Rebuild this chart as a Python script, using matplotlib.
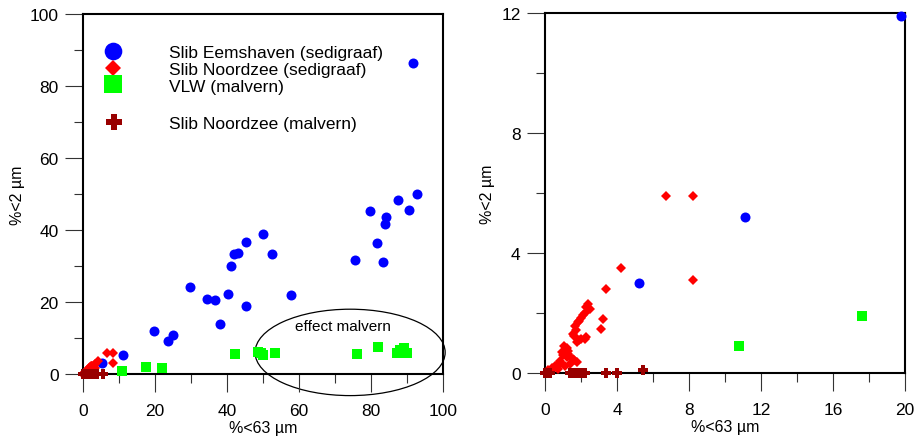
import matplotlib
matplotlib.use('Agg')
import matplotlib.pyplot as plt
import numpy as np
from matplotlib.patches import Ellipse
from matplotlib.lines import Line2D
from matplotlib.ticker import MultipleLocator

plt.rcParams['font.family'] = ['Liberation Sans', 'DejaVu Sans']

# Slib Eemshaven (sedigraaf)
eems_x = [5.2, 11.1, 19.8, 23.5, 25.0, 29.7, 34.4, 36.8, 38.1, 40.3, 41.2, 41.9, 43.0, 45.3,
          45.3, 50.1, 52.6, 57.8, 75.5, 79.6, 81.7, 83.4, 83.9, 84.1, 87.4, 90.5, 91.6, 92.7]
eems_y = [3.0, 5.2, 11.9, 9.1, 10.7, 24.2, 20.7, 20.6, 13.9, 22.1, 29.9, 33.2, 33.6, 36.7,
          18.8, 39.0, 33.3, 21.9, 31.8, 45.4, 36.5, 31.2, 41.7, 43.6, 48.3, 45.6, 86.5, 50.0]

# Slib Noordzee (sedigraaf)
nz_x = [6.7, 8.2, 8.2, 4.2, 3.4, 2.4, 2.5, 2.2, 2.0, 1.85, 1.67, 1.54, 3.2, 3.1, 2.3, 2.0,
        1.8, 1.07, 1.3, 0.93, 1.57, 1.2, 0.83, 0.74, 0.56, 0.37, 0.19, 1.76, 1.4, 1.1, 0.1,
        1.2, 1.0, 1.4, 0.9, 1.6, 1.3, 0.6, 1.7, 1.9, 2.1, 2.3, 1.6, 2.2, 1.9, 0.45, 0.7]
nz_y = [5.9, 5.9, 3.1, 3.5, 2.8, 2.3, 2.15, 2.0, 1.85, 1.7, 1.58, 1.3, 1.8, 1.47, 1.2, 1.13,
        1.04, 0.9, 0.75, 0.7, 0.47, 0.52, 0.41, 0.3, 0.25, 0.16, 0.09, 0.36, 0.3, 0.25, 0.02,
        0.85, 0.6, 0.55, 0.35, 0.45, 0.65, 0.2, 1.45, 1.75, 1.95, 2.2, 1.25, 1.15, 1.1, 0.12, 0.15]

# VLW (malvern)
vlw_x = [10.8, 17.6, 22.0, 42.3, 48.5, 49.5, 50.0, 53.2, 76.0, 82.0, 87.1, 88.0, 89.2, 89.9]
vlw_y = [0.9, 1.9, 1.6, 5.5, 6.2, 5.9, 5.2, 5.8, 5.6, 7.6, 5.9, 6.7, 7.1, 5.8]

# Slib Noordzee (malvern)
nzm_x = [0.0, 0.1, 0.2, 0.3, 1.4, 1.6, 1.8, 2.0, 2.2, 3.4, 4.0, 5.45]
nzm_y = [0, 0, 0, 0, 0, 0, 0, 0, 0, 0, 0, 0.1]

series = [
    (eems_x, eems_y, 'o', '#0000ff', 7.2, 12.7, 'Slib Eemshaven (sedigraaf)'),
    (vlw_x, vlw_y, 's', '#00ff00', 6.8, 12.5, 'VLW (malvern)'),
    (nz_x, nz_y, 'D', '#ff0000', 4.6, 8.5, 'Slib Noordzee (sedigraaf)'),
    (nzm_x, nzm_y, 'P', '#990000', 6.8, 12.0, 'Slib Noordzee (malvern)'),
]

fig = plt.figure(figsize=(9.22, 4.39), dpi=100)
ax1 = fig.add_axes([83 / 922, 64 / 439, 360 / 922, 360 / 439])
ax2 = fig.add_axes([545 / 922, 65 / 439, 360 / 922, 360 / 439])


def style(ax, xmax, xmaj, ymax, ymaj, ylab_x):
    ax.set_xlim(0, xmax)
    ax.set_ylim(0, ymax)
    ax.xaxis.set_major_locator(MultipleLocator(xmaj))
    ax.xaxis.set_minor_locator(MultipleLocator(xmaj / 2))
    ax.yaxis.set_major_locator(MultipleLocator(ymaj))
    ax.yaxis.set_minor_locator(MultipleLocator(ymaj / 2))
    ax.tick_params(which='major', direction='out', length=13, width=0.8, labelsize=12.5, color='0.2')
    ax.tick_params(axis='x', which='major', pad=8)
    ax.tick_params(axis='y', which='major', pad=4.5)
    ax.tick_params(which='minor', direction='out', length=6.5, width=0.8, color='0.2')
    for s in ax.spines.values():
        s.set_linewidth(1.5)
    ax.set_xlabel('%<63 µm', fontsize=11.5)
    ax.set_ylabel('%<2 µm', fontsize=11.5)
    ax.xaxis.set_label_coords(0.5, -0.128)
    ax.yaxis.set_label_coords(ylab_x, 0.5)


style(ax1, 100, 20, 100, 20, -0.16)
style(ax2, 20, 4, 12, 4, -0.139)

for x, y, m, c, ms, lms, lab in series:
    x = np.array(x)
    y = np.array(y)
    ax1.plot(x, y, ls='none', marker=m, color=c, ms=ms, mew=0, clip_on=False, zorder=3)
    keep = (x <= 20) & (y <= 12)
    ax2.plot(x[keep], y[keep], ls='none', marker=m, color=c, ms=ms, mew=0, clip_on=False, zorder=3)

# effect malvern ellipse
ax1.add_patch(Ellipse((74.2, 6), 52.8, 24, fill=False, lw=0.9, color='black', clip_on=False))
ax1.text(72.3, 13.2, 'effect malvern', fontsize=11, ha='center', va='center')

# legend
handles = {}
for x, y, m, c, ms, lms, lab in series:
    handles[lab] = Line2D([], [], ls='none', marker=m, color=c, ms=lms, mew=0)
order1 = ['Slib Eemshaven (sedigraaf)', 'Slib Noordzee (sedigraaf)', 'VLW (malvern)']
leg1 = ax1.legend([handles[k] for k in order1], order1, loc='upper left',
                  bbox_to_anchor=(0.036, 0.915), frameon=False, fontsize=12.5,
                  borderpad=0, borderaxespad=0, labelspacing=0.1,
                  handlelength=2, handletextpad=2.2)
ax1.add_artist(leg1)
ax1.legend([handles['Slib Noordzee (malvern)']], ['Slib Noordzee (malvern)'], loc='upper left',
           bbox_to_anchor=(0.038, 0.718), frameon=False, fontsize=12.5,
           borderpad=0, borderaxespad=0, handlelength=2, handletextpad=2.15)

fig.savefig('out.png', dpi=100)
